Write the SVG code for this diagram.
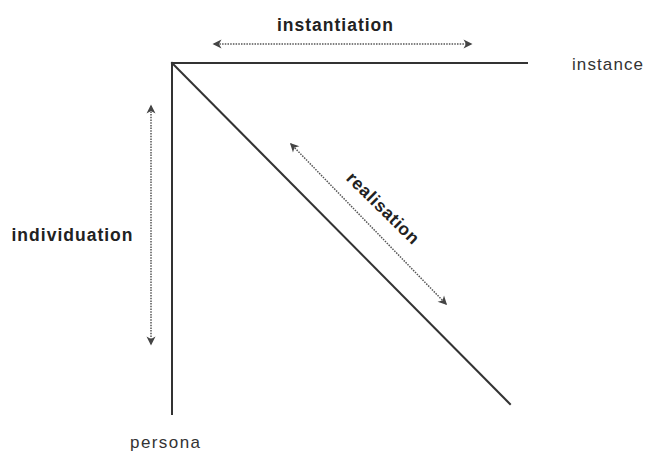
<svg xmlns="http://www.w3.org/2000/svg" width="646" height="451" viewBox="0 0 646 451">
<style>
.axis{stroke:#333;stroke-width:2;fill:none;stroke-linecap:square}
.dot{stroke:#555;stroke-width:1.5;stroke-dasharray:1.5 1.2;fill:none;marker-start:url(#ah);marker-end:url(#ah)}
.lbl{font-family:"Liberation Sans",Arial,sans-serif;font-weight:bold;font-size:17.5px;fill:#222}
.end{font-family:"Liberation Sans",Arial,sans-serif;font-size:17px;fill:#333}
</style>
<defs>
<marker id="ah" viewBox="0 0 10 10" refX="8" refY="5" markerWidth="10" markerHeight="10" markerUnits="userSpaceOnUse" orient="auto-start-reverse">
<path d="M0.5,0.5 L9.5,5 L0.5,9.5 L3,5 Z" fill="#444"/>
</marker>
</defs>
<rect width="646" height="451" fill="#fff"/>
<g id="axes">
<line class="axis" x1="172" y1="63" x2="527" y2="63"/>
<line class="axis" x1="172" y1="63" x2="172" y2="414"/>
<line class="axis" x1="172" y1="63" x2="510" y2="404"/>
</g>
<g id="connectors">
<line class="dot" x1="214" y1="44" x2="471" y2="44"/>
<line class="dot" x1="151" y1="106" x2="151" y2="344"/>
<line class="dot" x1="291" y1="144" x2="446" y2="304"/>
</g>
<g id="instantiation"><text class="lbl" x="335" y="31" text-anchor="middle" textLength="116">instantiation</text></g>
<g id="individuation"><text class="lbl" x="72" y="241" text-anchor="middle" textLength="121">individuation</text></g>
<g id="realisation"><text class="lbl" transform="translate(383,208) rotate(44.5)" x="0" y="6" text-anchor="middle" textLength="94">realisation</text></g>
<g id="instance"><text class="end" x="572" y="70" textLength="71">instance</text></g>
<g id="persona"><text class="end" x="165" y="448" text-anchor="middle" textLength="70">persona</text></g>
</svg>
